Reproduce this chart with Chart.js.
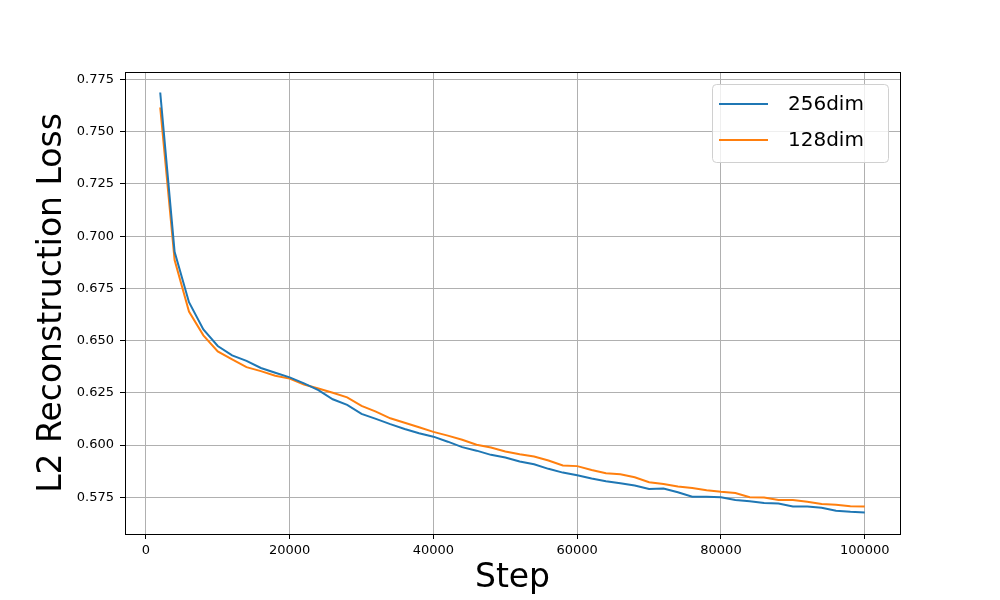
<!DOCTYPE html>
<html>
<head>
<meta charset="utf-8">
<script src="https://cdn.jsdelivr.net/npm/chart.js@4/dist/chart.umd.min.js"></script>
<style>
  html, body { margin: 0; padding: 0; background: #fff; }
  canvas { display: block; }
</style>
</head>
<body>
<canvas id="lossChart" width="1000" height="600"></canvas>
<script>
// training steps
const steps = [
  2000, 4000, 6000, 8000, 10000, 12000, 14000, 16000, 18000, 20000,
  22000, 24000, 26000, 28000, 30000, 32000, 34000, 36000, 38000, 40000,
  42000, 44000, 46000, 48000, 50000, 52000, 54000, 56000, 58000, 60000,
  62000, 64000, 66000, 68000, 70000, 72000, 74000, 76000, 78000, 80000,
  82000, 84000, 86000, 88000, 90000, 92000, 94000, 96000, 98000, 100000
];

const loss256 = [
  0.7688, 0.6925, 0.6684, 0.6553, 0.6474, 0.6429, 0.6403, 0.6369, 0.6346, 0.6324,
  0.6295, 0.6263, 0.6219, 0.6192, 0.6149, 0.6125, 0.6100, 0.6077, 0.6056, 0.6040,
  0.6016, 0.5990, 0.5973, 0.5953, 0.5940, 0.5921, 0.5908, 0.5886, 0.5868, 0.5855,
  0.5840, 0.5827, 0.5817, 0.5806, 0.5789, 0.5792, 0.5774, 0.5752, 0.5752, 0.5750,
  0.5737, 0.5731, 0.5722, 0.5720, 0.5706, 0.5706, 0.5700, 0.5685, 0.5680, 0.5677
];

const loss128 = [
  0.7616, 0.6886, 0.6639, 0.6525, 0.6448, 0.6410, 0.6373, 0.6354, 0.6332, 0.6318,
  0.6290, 0.6271, 0.6250, 0.6228, 0.6187, 0.6160, 0.6128, 0.6107, 0.6085, 0.6063,
  0.6045, 0.6025, 0.6001, 0.5988, 0.5969, 0.5956, 0.5945, 0.5926, 0.5902, 0.5899,
  0.5880, 0.5865, 0.5860, 0.5846, 0.5822, 0.5813, 0.5801, 0.5794, 0.5784, 0.5776,
  0.5770, 0.5750, 0.5749, 0.5737, 0.5737, 0.5728, 0.5718, 0.5714, 0.5707, 0.5706
];

const seriesNames = ["256dim", "128dim"];
const xTicks = [0, 20000, 40000, 60000, 80000, 100000];
const yTicks = [0.575, 0.600, 0.625, 0.650, 0.675, 0.700, 0.725, 0.750, 0.775];

const FONT = "'DejaVu Sans', sans-serif";

function toPoints(vals) {
  return steps.map((s, i) => ({ x: s, y: vals[i] }));
}

// black frame on all four sides of the plot area
const framePlugin = {
  id: "frame",
  afterDatasetsDraw(chart) {
    const a = chart.chartArea;
    const ctx = chart.ctx;
    ctx.save();
    ctx.strokeStyle = "#000";
    ctx.lineWidth = 1;
    ctx.strokeRect(Math.round(a.left) + 0.5, Math.round(a.top) + 0.5,
                   Math.round(a.right - a.left), Math.round(a.bottom - a.top));
    ctx.restore();
  }
};

// matplotlib-like legend box in the upper right corner
const boxLegend = {
  id: "boxLegend",
  afterDraw(chart) {
    const a = chart.chartArea;
    const ctx = chart.ctx;
    const w = 176, h = 78;
    const x0 = a.right - 12 - w, y0 = a.top + 12;
    ctx.save();
    ctx.beginPath();
    ctx.roundRect(x0 + 0.5, y0 + 0.5, w, h, 4);
    ctx.fillStyle = "rgba(255,255,255,0.8)";
    ctx.fill();
    ctx.strokeStyle = "#d0d0d0";
    ctx.lineWidth = 1;
    ctx.stroke();
    ctx.font = "20px " + FONT;
    ctx.textBaseline = "middle";
    ctx.textAlign = "left";
    chart.data.datasets.forEach((ds, i) => {
      const y = y0 + 20 + i * 36;
      ctx.beginPath();
      ctx.moveTo(x0 + 7, y);
      ctx.lineTo(x0 + 56, y);
      ctx.strokeStyle = ds.borderColor;
      ctx.lineWidth = 2;
      ctx.stroke();
      ctx.fillStyle = "#000";
      ctx.fillText(ds.label, x0 + 76, y + 1);
    });
    ctx.restore();
  }
};

new Chart(document.getElementById("lossChart"), {
  type: "line",
  data: {
    datasets: [
      {
        label: seriesNames[0],
        data: toPoints(loss256),
        borderColor: "#1f77b4",
        borderWidth: 2,
        pointRadius: 0,
        tension: 0,
        fill: false
      },
      {
        label: seriesNames[1],
        data: toPoints(loss128),
        borderColor: "#ff7f0e",
        borderWidth: 2,
        pointRadius: 0,
        tension: 0,
        fill: false
      }
    ]
  },
  options: {
    responsive: false,
    animation: false,
    devicePixelRatio: 1,
    layout: { padding: { left: 0, top: 72, right: 100, bottom: 0 } },
    plugins: {
      legend: { display: false },
      tooltip: { enabled: false }
    },
    scales: {
      x: {
        type: "linear",
        min: -2900,
        max: 104900,
        afterFit(scale) { scale.height = 66; },
        afterBuildTicks(scale) { scale.ticks = xTicks.map(v => ({ value: v })); },
        grid: { color: "#b0b0b0", lineWidth: 1, tickColor: "#000", tickLength: 5 },
        border: { display: true, color: "#000", width: 1 },
        ticks: {
          font: { family: FONT, size: 13 },
          color: "#000",
          padding: 4,
          maxRotation: 0,
          autoSkip: false,
          callback: v => String(v)
        },
        title: {
          display: true,
          text: "Step",
          font: { family: FONT, size: 33 },
          color: "#000",
          padding: { top: 0, bottom: 2 }
        }
      },
      y: {
        type: "linear",
        min: 0.5574,
        max: 0.7786,
        afterFit(scale) { scale.width = 125; },
        afterBuildTicks(scale) { scale.ticks = yTicks.map(v => ({ value: v })); },
        grid: { color: "#b0b0b0", lineWidth: 1, tickColor: "#000", tickLength: 5 },
        border: { display: true, color: "#000", width: 1 },
        ticks: {
          font: { family: FONT, size: 13 },
          color: "#000",
          padding: 6,
          autoSkip: false,
          callback: v => v.toFixed(3)
        },
        title: {
          display: true,
          text: "L2 Reconstruction Loss",
          font: { family: FONT, size: 33 },
          color: "#000",
          padding: { top: 33, bottom: 0 }
        }
      }
    }
  },
  plugins: [framePlugin, boxLegend]
});
</script>
</body>
</html>
